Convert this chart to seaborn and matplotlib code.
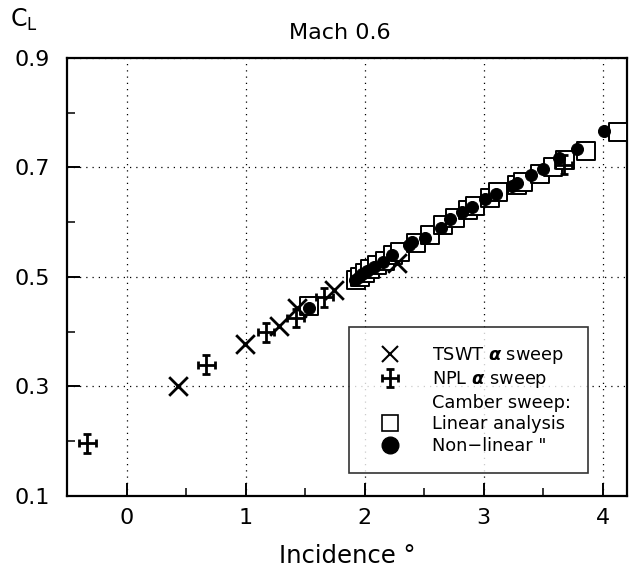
import matplotlib
matplotlib.use("Agg")
import matplotlib.pyplot as plt
from matplotlib.lines import Line2D
from matplotlib.ticker import MultipleLocator
from matplotlib.legend_handler import HandlerErrorbar
import seaborn as sns
import pandas as pd

# TSWT alpha sweep (X markers)
tswt_x = [0.43, 0.99, 1.28, 1.43, 1.74, 2.27]
tswt_y = [0.300, 0.377, 0.411, 0.444, 0.477, 0.525]

# NPL alpha sweep (cross with error bars)
npl_x = [-0.33, 0.67, 1.17, 1.42, 1.66, 3.67]
npl_y = [0.196, 0.340, 0.399, 0.425, 0.463, 0.705]

# Camber sweep: linear analysis (squares)
lin_x = [1.53, 1.93, 1.96, 2.00, 2.04, 2.10, 2.17, 2.24, 2.30, 2.43, 2.55, 2.66, 2.76,
         2.87, 2.93, 3.05, 3.12, 3.28, 3.33, 3.47, 3.58, 3.68, 3.86, 4.13]
lin_y = [0.447, 0.495, 0.500, 0.508, 0.515, 0.522, 0.530, 0.540, 0.545, 0.562, 0.576, 0.594,
         0.607, 0.622, 0.630, 0.644, 0.656, 0.668, 0.674, 0.688, 0.700, 0.713, 0.730, 0.765]

# Camber sweep: non-linear (filled circles)
nl_x = [1.53, 1.92, 1.95, 1.98, 2.02, 2.08, 2.15, 2.23, 2.37, 2.40, 2.51, 2.64, 2.72,
        2.82, 2.90, 3.01, 3.10, 3.24, 3.28, 3.40, 3.50, 3.63, 3.78, 4.01]
nl_y = [0.444, 0.495, 0.500, 0.505, 0.510, 0.518, 0.528, 0.541, 0.558, 0.563, 0.572, 0.590, 0.605,
        0.618, 0.627, 0.642, 0.652, 0.667, 0.671, 0.687, 0.698, 0.718, 0.733, 0.766]

x_ticks = [0, 1, 2, 3, 4]
y_ticks = [0.1, 0.3, 0.5, 0.7, 0.9]

sns.set_style("white")
plt.rcParams['font.family'] = ['DejaVu Sans']
plt.rcParams['text.color'] = 'black'
plt.rcParams['axes.labelcolor'] = 'black'
plt.rcParams['xtick.color'] = 'black'
plt.rcParams['ytick.color'] = 'black'

fig = plt.figure(figsize=(6.29, 5.74), dpi=100)
ax = fig.add_axes([0.106, 0.136, 0.891, 0.763])

df_t = pd.DataFrame({"x": tswt_x, "y": tswt_y})
df_l = pd.DataFrame({"x": lin_x, "y": lin_y})
df_n = pd.DataFrame({"x": nl_x, "y": nl_y})

sns.scatterplot(data=df_l, x="x", y="y", ax=ax, marker="s", s=150, facecolor="white",
                edgecolor="black", linewidth=1.4, zorder=3)
sns.scatterplot(data=df_n, x="x", y="y", ax=ax, marker="o", s=75, color="black",
                edgecolor="black", zorder=4)
sns.scatterplot(data=df_t, x="x", y="y", ax=ax, marker="x", s=180, color="black",
                linewidth=2.0, zorder=5)
npl = ax.errorbar(npl_x, npl_y, xerr=0.07, yerr=0.017, fmt="none", ecolor="black",
                  elinewidth=2.0, capsize=3, capthick=2.0, zorder=5)

ax.set_xlim(-0.504, 4.204)
ax.set_ylim(0.1, 0.9)
ax.set_xticks(x_ticks)
ax.set_yticks(y_ticks)
ax.xaxis.set_minor_locator(MultipleLocator(0.5))
ax.yaxis.set_minor_locator(MultipleLocator(0.1))
ax.set_yticklabels([f"{v:.1f}" for v in y_ticks])
ax.tick_params(which="major", direction="in", length=9.5, width=1.4, labelsize=16,
               bottom=True, left=True)
ax.tick_params(axis="x", which="major", pad=9)
ax.tick_params(axis="y", which="major", pad=12)
ax.tick_params(which="minor", direction="in", length=6, width=1.1, bottom=True, left=True)
ax.grid(True, which="major", linestyle=(0, (1, 4)), color="black", linewidth=0.9)
for sp in ax.spines.values():
    sp.set_linewidth(1.6)
    sp.set_color("black")
ax.set_xlabel("")
ax.set_ylabel("")

fig.text(347 / 629, 1 - 556 / 574, "Incidence °", ha="center", va="center", fontsize=17.5)
fig.text(24 / 629, 1 - 20 / 574, "C$_\\mathregular{L}$", ha="center", va="center", fontsize=17)
fig.text(340 / 629, 1 - 33 / 574, "Mach 0.6", ha="center", va="center", fontsize=16)

handles = [
    Line2D([], [], marker="x", color="black", linestyle="none", markersize=12, markeredgewidth=1.5),
    npl,
    Line2D([], [], linestyle="none"),
    Line2D([], [], marker="s", markerfacecolor="white", markeredgecolor="black",
           linestyle="none", markersize=12, markeredgewidth=1.2),
    Line2D([], [], marker="o", color="black", linestyle="none", markersize=12),
]
labels = ["TSWT $\\boldsymbol{\\alpha}$ sweep", "NPL $\\boldsymbol{\\alpha}$ sweep",
          "Camber sweep:", "Linear analysis", "Non\u2212linear \""]
leg = ax.legend(handles, labels, loc="lower right", bbox_to_anchor=(0.931, 0.053),
                fontsize=12.8, frameon=True, fancybox=False, edgecolor="black",
                labelspacing=0.2, handlelength=2.6, handletextpad=1.05, borderpad=1.0,
                borderaxespad=0,
                handler_map={npl: HandlerErrorbar(xerr_size=0.45, yerr_size=0.5)})
leg.get_frame().set_linewidth(1.2)
leg.set_zorder(10)

fig.savefig("out.png", dpi=100, facecolor="white")
